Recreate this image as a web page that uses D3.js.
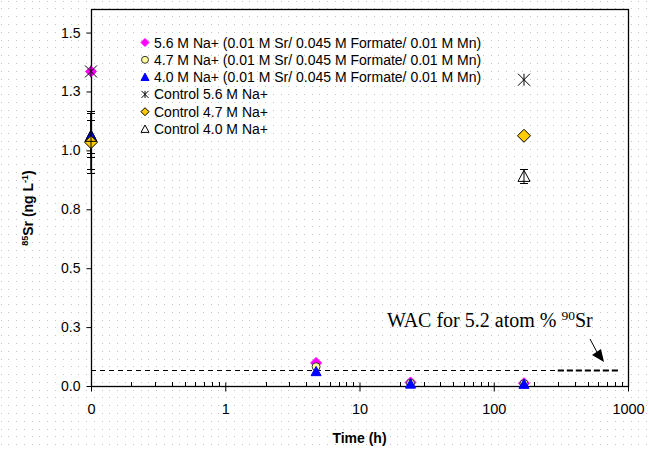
<!DOCTYPE html>
<html><head><meta charset="utf-8">
<script src="https://cdn.jsdelivr.net/npm/d3@7"></script>
<style>body{margin:0;background:#fff}svg{display:block}</style>
</head><body>
<svg id="c" width="651" height="449"></svg>
<script>
// ---- data ----
const timesTreat = [0, 4.75, 24, 168];
const sr56 = [1.335, 0.098, 0.015, 0.012];
const sr47 = [1.04, 0.082, 0.012, 0.010];
const sr40 = [1.065, 0.062, 0.009, 0.008];
const sr56Err = [0, 0, 0, 0];
const sr47Err = [0.12, 0, 0, 0];
const sr40Err = [0.095, 0, 0, 0];
const timesCtl = [0, 168];
const ctl56 = [1.335, 1.30];
const ctl47 = [1.035, 1.062];
const ctl40 = [1.06, 0.89];
const ctl56Err = [0, 0];
const ctl47Err = [0.13, 0];
const ctl40Err = [0.07, 0.03];
const legendLabels = [
  "5.6 M Na+ (0.01 M Sr/ 0.045 M Formate/ 0.01 M Mn)",
  "4.7 M Na+ (0.01 M Sr/ 0.045 M Formate/ 0.01 M Mn)",
  "4.0 M Na+ (0.01 M Sr/ 0.045 M Formate/ 0.01 M Mn)",
  "Control 5.6 M Na+",
  "Control 4.7 M Na+",
  "Control 4.0 M Na+"
];
const xTicks = [0.1, 1, 10, 100, 1000];
const xTickLabels = ["0", "1", "10", "100", "1000"];
const yTicks = [0, 0.25, 0.5, 0.75, 1.0, 1.25, 1.5];
const wacValue = 0.066;
const wacRange = [0.1, 870];
const wacThick = [300, 870];

// ---- layout ----
const W = 651, H = 449;
const L = 91, R = 628, T = 9, B = 386;
const svg = d3.select("#c");
const x = d3.scaleLog().domain([0.1, 1000]).range([L, R]);
const y = d3.scaleLinear().domain([0, 1.6]).range([B, T]);
const xt = t => x(Math.max(t, 0.1));

// background dotted pattern
const dots = svg.append("g");
const sp = 7.78;
for (let i = 0; i * sp < W; i++) for (let j = 0; j * sp < H; j++) {
  dots.append("rect").attr("x", Math.round(0.5 + i * sp)).attr("y", Math.round(0.7 + j * sp))
    .attr("width", 1).attr("height", 1).attr("fill", "#c4c4c4");
}

// frame
svg.append("rect").attr("x", L + 0.5).attr("y", T + 0.5).attr("width", R - L).attr("height", B - T)
  .attr("fill", "none").attr("stroke", "#000").attr("stroke-width", 1.3);

// y axis
const yAxis = svg.append("g").attr("transform", `translate(${L + 0.5},0)`)
  .call(d3.axisLeft(y).tickValues(yTicks).tickFormat(d3.format(".1f")).tickSize(5).tickPadding(6));
yAxis.select(".domain").remove();
yAxis.selectAll("line").attr("stroke", "#000");
yAxis.selectAll("text").attr("font-family", "Liberation Sans, Arial, sans-serif").attr("font-size", 14).attr("fill", "#000");

// x axis major ticks
const xAxis = svg.append("g").attr("transform", `translate(0,${B + 0.5})`)
  .call(d3.axisBottom(x).tickValues(xTicks).tickFormat((d, i) => xTickLabels[i]).tickSize(5).tickPadding(12));
xAxis.select(".domain").remove();
xAxis.selectAll("line").attr("stroke", "#000").attr("y1", -4);
xAxis.selectAll("text").attr("font-family", "Liberation Sans, Arial, sans-serif").attr("font-size", 14.5).attr("fill", "#000");
// minor ticks
const minor = [];
for (let d = 0.1; d < 1000; d *= 10) for (let k = 2; k <= 9; k++) minor.push(d * k);
svg.append("g").selectAll("line").data(minor).join("line")
  .attr("x1", d => Math.round(x(d)) + 0.5).attr("x2", d => Math.round(x(d)) + 0.5)
  .attr("y1", B).attr("y2", B - 4).attr("stroke", "#000");

// axis titles
svg.append("text").attr("x", (L + R) / 2).attr("y", 443).attr("text-anchor", "middle")
  .attr("font-family", "Liberation Sans, Arial, sans-serif").attr("font-weight", "bold").attr("font-size", 14)
  .text("Time (h)");
const yt = svg.append("text").attr("transform", "translate(33,208) rotate(-90)").attr("text-anchor", "middle")
  .attr("font-family", "Liberation Sans, Arial, sans-serif").attr("font-weight", "bold").attr("font-size", 14);
yt.append("tspan").attr("font-size", 9).attr("dy", -5).text("85");
yt.append("tspan").attr("dy", 5).text("Sr (ng L");
yt.append("tspan").attr("font-size", 9).attr("dy", -5).text("-1");
yt.append("tspan").attr("dy", 5).text(")");

// WAC line
svg.append("line").attr("x1", x(wacRange[0])).attr("x2", x(wacRange[1]))
  .attr("y1", Math.round(y(wacValue)) + 0.5).attr("y2", Math.round(y(wacValue)) + 0.5)
  .attr("stroke", "#000").attr("stroke-dasharray", "5,4");
svg.append("line").attr("x1", x(wacThick[0])).attr("x2", x(wacThick[1]))
  .attr("y1", Math.round(y(wacValue)) + 0.5).attr("y2", Math.round(y(wacValue)) + 0.5)
  .attr("stroke", "#000").attr("stroke-width", 2).attr("stroke-dasharray", "6,3");
const wt = svg.append("text").attr("x", 387).attr("y", 327)
  .attr("font-family", "Liberation Serif, Times New Roman, serif").attr("font-size", 20);
wt.append("tspan").text("WAC for 5.2 atom % ");
wt.append("tspan").attr("font-size", 13.5).attr("dy", -7).text("90");
wt.append("tspan").attr("dy", 7).text("Sr");
// arrow
svg.append("line").attr("x1", 590).attr("y1", 339).attr("x2", 598).attr("y2", 354).attr("stroke", "#000");
svg.append("path").attr("d", "M604,362 L592,355 L601,349 Z").attr("fill", "#000");

// markers
function marker(g, type, size) {
  const s = size / 2;
  if (type === "diamond") return g.append("path").attr("d", `M0,${-s}L${s},0L0,${s}L${-s},0Z`);
  if (type === "circle") return g.append("circle").attr("r", s);
  if (type === "triangle") return g.append("path").attr("d", `M0,${-s}L${s},${s * 0.85}L${-s},${s * 0.85}Z`);
  if (type === "star") {
    return g.append("path").attr("d", `M${-s},${-s}L${s},${s}M${s},${-s}L${-s},${s}M0,${-s}L0,${s}`);
  }
}
const series = [
  {t: timesTreat, v: sr56, e: sr56Err, type: "diamond", fill: "#ff00ff", stroke: "#ff00ff", size: 11, ls: 8},
  {t: timesTreat, v: sr47, e: sr47Err, type: "circle", fill: "#ffff99", stroke: "#333", size: 8, ls: 7},
  {t: timesTreat, v: sr40, e: sr40Err, type: "triangle", fill: "#0000ff", stroke: "#0000ff", size: 10, ls: 8},
  {t: timesCtl, v: ctl56, e: ctl56Err, type: "star", fill: "none", stroke: "#000", size: 12, ls: 7},
  {t: timesCtl, v: ctl47, e: ctl47Err, type: "diamond", fill: "#ffcc00", stroke: "#000", size: 13, ls: 8},
  {t: timesCtl, v: ctl40, e: ctl40Err, type: "triangle", fill: "none", stroke: "#000", size: 12, ls: 8}
];
series.forEach(s => {
  const g = svg.append("g");
  s.t.forEach((t, i) => {
    const cx = xt(t), cy = y(s.v[i]);
    if (s.e[i] > 0) {
      const eb = g.append("g").attr("stroke", "#000").attr("stroke-width", 1);
      const y1 = Math.round(y(s.v[i] + s.e[i])) + 0.5, y2 = Math.round(y(s.v[i] - s.e[i])) + 0.5;
      eb.append("line").attr("x1", cx).attr("x2", cx).attr("y1", y1).attr("y2", y2);
      eb.append("line").attr("x1", cx - 4).attr("x2", cx + 4).attr("y1", y1).attr("y2", y1);
      eb.append("line").attr("x1", cx - 4).attr("x2", cx + 4).attr("y1", y2).attr("y2", y2);
    }
    const mg = g.append("g").attr("transform", `translate(${cx},${cy})`);
    marker(mg, s.type, s.size).attr("fill", s.fill).attr("stroke", s.stroke).attr("stroke-width", 1);
  });
});

// legend
const lg = svg.append("g");
legendLabels.forEach((lab, i) => {
  const ly = 42.5 + i * 17.3;
  const s = series[i];
  const mg = lg.append("g").attr("transform", `translate(145,${ly})`);
  marker(mg, s.type, s.ls).attr("fill", s.fill).attr("stroke", s.stroke).attr("stroke-width", 1);
  lg.append("text").attr("x", 154).attr("y", ly + 5)
    .attr("font-family", "Liberation Sans, Arial, sans-serif").attr("font-size", 14).text(lab);
});
</script>
</body></html>
